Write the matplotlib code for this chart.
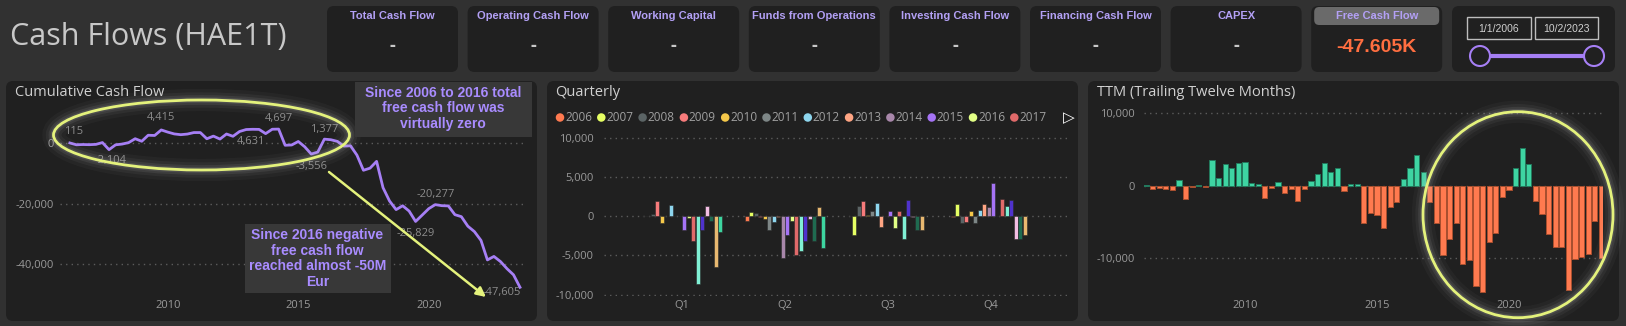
import numpy as np
import pandas as pd
import matplotlib
matplotlib.use('Agg')
import matplotlib.pyplot as plt
import matplotlib.dates as mdates
from matplotlib.patches import FancyBboxPatch, Ellipse, Rectangle
from matplotlib.ticker import FuncFormatter, FixedLocator

plt.rcParams['font.family'] = ['Open Sans', 'DejaVu Sans']

W, H = 1626, 326

# ---- values ----
kpi_titles = ['Total Cash Flow', 'Operating Cash Flow', 'Working Capital', 'Funds from Operations',
              'Investing Cash Flow', 'Financing Cash Flow', 'CAPEX', 'Free Cash Flow']
kpi_values = ['-', '-', '-', '-', '-', '-', '-', '-47.605K']
date_from = '1/1/2006'
date_to = '10/2/2023'

quarter_ends = pd.date_range('2006-03-31', periods=70, freq='QE')

cum_fcf = [115, -485, -405, -455, -355, 245, -2104, -504, -254, 216,
           1516, 666, 2666, 2586, 4415, 3695, 3100, 2850, 3050, 3550,
           3550, 1500, 2375, 1400, 3075, 2315, 3900, 4550, 4631, 4600,
           3200, 4650, 4697, -650, -550, 600, -1150, -3556, -2900, 1377,
           1180, 630, -920, -820, -3920, -8920, -8220, -5970, -14670, -19070,
           -21920, -20650, -22400, -25829, -23729, -21600, -20277, -20617, -20697, -23597,
           -24247, -27397, -29197, -32097, -38547, -37397, -39097, -41467, -43467, -47605]
cum_label_idx = [0, 6, 14, 28, 32, 37, 39, 53, 56, 69]

ttm_fcf = [100, -460, -300, -400, -550, 740, -1800, -150, 100, -150,
           3600, 1100, 3000, 2400, 3100, 3300, 400, 200, -1700, -300,
           500, -1000, -500, -2100, -500, 600, 1600, 3200, 1900, 2500,
           -700, 200, 200, -5200, -3800, -4100, -5900, -2900, -2200, 870,
           2400, 4200, 1900, -2200, -5200, -9600, -7300, -5200, -10800, -10200,
           -13800, -14700, -7800, -6500, -1500, -600, 2400, 5200, 3000, -2100,
           -3950, -6700, -8500, -8500, -14400, -10100, -9900, -9400, -4900, -10000]

years = list(range(2006, 2024))
year_colors = ['#ff7a50', '#e6ff63', '#5b6465', '#f77b7b', '#f5c84a', '#7d8686',
               '#8ed6ee', '#ffa583', '#a887aa', '#a573f5', '#e2ff85', '#e06a6a',
               '#80f0d4', '#4f32cc', '#f2bde3', '#1f6b50', '#e8b870', '#3dd5a0']
quarter_names = ['Q1', 'Q2', 'Q3', 'Q4']
q1_fcf = [100, 100, 250, 2000, -850, 50, 1500, 80, 80, -1750, -200, -3100, -8700, -1750, 1300, -650, -6450, -2000]
q2_fcf = [-600, 600, 470, -80, -300, -1800, -760, -50, -5300, -2400, -550, -5000, -4400, -3150, -340, -3150, 1150, -4000]
q3_fcf = [80, -2350, 1300, 2000, 200, 700, 1650, -1400, 100, 700, -1550, 700, -2850, 2100, -80, -1800, -1700]
q4_fcf = [-50, 1600, -850, -720, 680, -800, 800, 1530, 1150, 4300, 100, 2250, 1270, 2120, -2900, -2900, -2370]

# ---- colours ----
fig_bg = '#313131'
card_bg = '#202020'
title_col = '#c8c8c8'
tick_col = '#9a9a9a'
grid_col = '#5c5c5c'
purple = '#a67ff5'
note_col = '#a98cff'
hl_col = '#e4f27c'
pos_col = '#3ed4a2'
neg_col = '#ff7a4f'

fig = plt.figure(figsize=(W / 100, H / 100), dpi=100, facecolor=fig_bg)

bg = fig.add_axes([0, 0, 1, 1], zorder=0)
bg.set_xlim(0, W)
bg.set_ylim(H, 0)
bg.axis('off')


def rbox(ax, x0, y0, x1, y1, color, r=7):
    ax.add_patch(FancyBboxPatch((x0, y0), x1 - x0, y1 - y0,
                                boxstyle=f'round,pad=0,rounding_size={r}', fc=color, ec='none'))


def px_axes(x0, y0, x1, y1):
    ax = fig.add_axes([x0 / W, 1 - y1 / H, (x1 - x0) / W, (y1 - y0) / H], zorder=2)
    ax.set_facecolor('none')
    for s in ax.spines.values():
        s.set_visible(False)
    ax.tick_params(length=0, colors=tick_col, labelsize=8)
    ax.grid(axis='y', color=grid_col, linestyle=(0, (1, 3)), linewidth=1)
    ax.set_axisbelow(True)
    ax.yaxis.set_major_formatter(FuncFormatter(lambda v, _: f'{int(v):,}'))
    return ax


# header
bg.text(10, 37, 'Cash Flows (HAE1T)', color=title_col, fontsize=22, va='center', ha='left')

narrow = ['Liberation Sans Narrow', 'Liberation Sans', 'DejaVu Sans']
for i, (t, v) in enumerate(zip(kpi_titles, kpi_values)):
    x0 = 327 + 140.6 * i
    rbox(bg, x0, 6, x0 + 131, 72, card_bg)
    if v != '-':
        rbox(bg, x0 + 3, 7, x0 + 128, 25, '#6a6a6a', r=5)
        bg.text(x0 + 65.5, 47, v, color='#ff6e40', fontsize=14, fontweight='bold',
                ha='center', va='center', family=['Liberation Sans', 'DejaVu Sans'])
    else:
        bg.text(x0 + 65.5, 46, v, color=title_col, fontsize=13, fontweight='bold',
                ha='center', va='center')
    bg.text(x0 + 65.5, 16, t, color='#b3a0f5', fontsize=8, fontweight='bold',
            ha='center', va='center', family=narrow)

# date slicer
rbox(bg, 1452, 6, 1615, 72, card_bg)
for (bx0, bx1), d in zip([(1467, 1531), (1535, 1598)], [date_from, date_to]):
    bg.add_patch(Rectangle((bx0, 17), bx1 - bx0, 22, fill=False, ec='#bdbdbd', lw=1))
    bg.text((bx0 + bx1) / 2, 28.5, d, color='#d0d0d0', fontsize=7.5, ha='center', va='center',
            family=narrow)
bg.plot([1480, 1594], [56, 56], color=purple, lw=3, solid_capstyle='butt')
for cx in (1480, 1594):
    bg.add_patch(Ellipse((cx, 56), 20, 20, fc=card_bg, ec=purple, lw=1.5, zorder=3))

# panels
for x0, x1, ttl in [(6, 537, 'Cumulative Cash Flow'), (547, 1078, 'Quarterly'),
                    (1088, 1619, 'TTM (Trailing Twelve Months)')]:
    rbox(bg, x0, 81, x1, 321, card_bg)
    bg.text(x0 + 8.5, 92.5, ttl, color='#d0d0d0', fontsize=10.5, ha='left', va='center')

# ---- cumulative line ----
zc, ppc = 143.3, 60.5 / 20000
axc = px_axes(60, 100, 525, 296)
axc.plot(quarter_ends, cum_fcf, color=purple, lw=2, solid_joinstyle='round')
axc.set_xlim(pd.Timestamp('2005-11-13'), pd.Timestamp('2023-09-08'))
axc.set_ylim((zc - 296) / ppc, (zc - 100) / ppc)
axc.yaxis.set_major_locator(FixedLocator([-40000, -20000, 0]))
axc.xaxis.set_major_locator(mdates.YearLocator(5))
axc.xaxis.set_major_formatter(mdates.DateFormatter('%Y'))
axc.tick_params(axis='y', pad=4.5)
axc.tick_params(axis='x', pad=3)
label_off = {0: (4, -11), 6: (2, 11), 14: (0, -12), 28: (-2, 12), 32: (0, -11),
             37: (0, 12), 39: (0, -10), 53: (0, 12), 56: (0, -10), 69: (-18, 5)}
for k in cum_label_idx:
    dx, dy = label_off[k]
    axc.annotate(f'{cum_fcf[k]:,}', (quarter_ends[k], cum_fcf[k]), xytext=(dx * 0.72, -dy * 0.72),
                 textcoords='offset points', ha='center', va='center', color='#8c8c8c', fontsize=8)

# ---- quarterly clustered columns ----
axq = px_axes(603.7, 130, 1070, 296)
slot = 0.0436
for qi, vals in enumerate([q1_fcf, q2_fcf, q3_fcf, q4_fcf]):
    xs = qi + (np.arange(len(vals)) - (len(years) - 1) / 2) * slot
    axq.bar(xs, vals, width=slot * 0.88, color=year_colors[:len(vals)],
            edgecolor='#2a2a2a', linewidth=0.4)
axq.set_xticks(range(4))
axq.set_xticklabels(quarter_names)
axq.set_xlim(-0.760, 3.767)
zq, ppq = 216.3, 39.1 / 5000
axq.set_ylim((zq - 296) / ppq, (zq - 130) / ppq)
axq.yaxis.set_major_locator(FixedLocator([-10000, -5000, 0, 5000, 10000]))
axq.tick_params(axis='y', pad=7)
axq.tick_params(axis='x', pad=3)

for j, (yr, col) in enumerate(zip(years[:12], year_colors[:12])):
    lx = 560 + 41.3 * j
    bg.add_patch(Ellipse((lx, 117.5), 8.5, 8.5, fc=col, ec='none'))
    bg.text(lx + 5, 117.5, str(yr), color='#a0a0a0', fontsize=8.5, ha='left', va='center')
bg.text(1068.5, 117.5, '\u25b7', color='white', fontsize=11, ha='center', va='center',
        family='DejaVu Sans')

# ---- TTM bars ----
axt = px_axes(1144.4, 105, 1603, 296)
ttm = np.array(ttm_fcf)
cols = np.where(ttm >= 0, pos_col, neg_col)
edges = np.where(ttm >= 0, '#23795d', '#a9502f')
axt.bar(quarter_ends, ttm, width=72, color=cols, edgecolor=edges, linewidth=0.7)
axt.set_xlim(pd.Timestamp('2006-03-09'), pd.Timestamp('2023-07-23'))
zt, ppt = 185.7, 72.5 / 10000
axt.set_ylim((zt - 296) / ppt, (zt - 105) / ppt)
axt.yaxis.set_major_locator(FixedLocator([-10000, 0, 10000]))
axt.xaxis.set_major_locator(mdates.YearLocator(5))
axt.xaxis.set_major_formatter(mdates.DateFormatter('%Y'))
axt.tick_params(axis='y', pad=7)
axt.tick_params(axis='x', pad=3)

# ---- highlights / notes on top ----
top = fig.add_axes([0, 0, 1, 1], zorder=5)
top.set_facecolor('none')
top.set_xlim(0, W)
top.set_ylim(H, 0)
top.axis('off')


def glow_ellipse(c, w, h):
    for lw, a in [(16, 0.04), (11, 0.06), (7, 0.09), (4, 0.12)]:
        top.add_patch(Ellipse(c, w, h, fill=False, ec='#d0d0d0', lw=lw, alpha=a))
    top.add_patch(Ellipse(c, w, h, fill=False, ec=hl_col, lw=2))


glow_ellipse((201.5, 135), 296, 70)
glow_ellipse((1518, 214.7), 190, 206)

top.annotate('', xy=(486, 297), xytext=(329, 172),
             arrowprops=dict(arrowstyle='-|>', color=hl_col, lw=1.8, mutation_scale=14,
                             shrinkA=0, shrinkB=0))

top.add_patch(Rectangle((355, 82), 177, 55, fc='#383838', ec='none'))
top.text(443, 108.5, 'Since 2006 to 2016 total\nfree cash flow was\nvirtually zero',
         color=note_col, fontsize=10, fontweight='bold', ha='center', va='center',
         linespacing=1.15, family=['Liberation Sans', 'DejaVu Sans'])
top.add_patch(Rectangle((244.5, 224), 146.3, 69.3, fc='#383838', ec='none'))
top.text(317.5, 258.5, 'Since 2016 negative\nfree cash flow\nreached almost -50M\nEur',
         color=note_col, fontsize=10, fontweight='bold', ha='center', va='center',
         linespacing=1.15, family=['Liberation Sans', 'DejaVu Sans'])

fig.savefig('out.png', dpi=100, facecolor=fig_bg)
